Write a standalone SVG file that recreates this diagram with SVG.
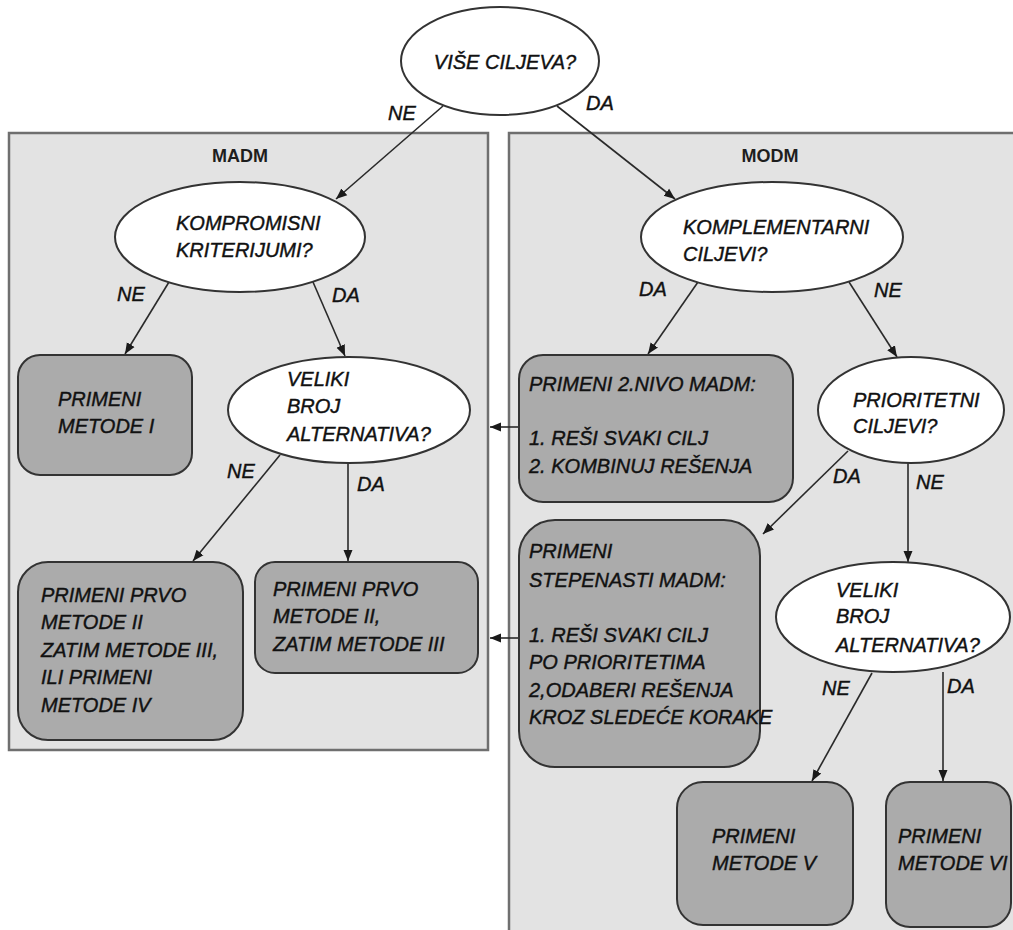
<svg xmlns="http://www.w3.org/2000/svg" width="1013" height="930" viewBox="0 0 1013 930">
  <style>
    .panel { fill: #e3e3e3; stroke: #6f6f6f; stroke-width: 2.5; }
    .panel-title { font-family: "Liberation Sans", Arial, sans-serif; font-weight: bold; font-size: 18px; fill: #1e1e1e; text-anchor: middle; }
    .question { fill: #ffffff; stroke: #333333; stroke-width: 2; }
    .action { fill: #ababab; stroke: #333333; stroke-width: 2; }
    .t { font-family: "Liberation Sans", Arial, sans-serif; font-style: italic; font-size: 20px; fill: #111111; stroke: #111111; stroke-width: 0.4; }
    .tc { text-anchor: middle; }
    .edge { fill: none; stroke: #2a2a2a; stroke-width: 1.6; marker-end: url(#arrow); }
    .lbl { font-family: "Liberation Sans", Arial, sans-serif; font-style: italic; font-size: 20px; fill: #111111; stroke: #111111; stroke-width: 0.4; }
  </style>
  <defs>
    <marker id="arrow" markerUnits="userSpaceOnUse" markerWidth="12" markerHeight="12" viewBox="0 0 12 12" refX="11" refY="6" orient="auto">
      <path d="M0,1.5 L11,6 L0,10.5 Z" fill="#1a1a1a"/>
    </marker>
  </defs>

  <rect width="1013" height="930" fill="#ffffff"/>

  <!-- method groups -->
  <g id="panel-madm">
    <rect class="panel" x="9" y="133" width="479" height="617"/>
    <text class="panel-title" x="240" y="162">MADM</text>
  </g>
  <g id="panel-modm">
    <rect class="panel" x="509" y="133" width="520" height="810"/>
    <text class="panel-title" x="770" y="162">MODM</text>
  </g>

  <!-- connectors -->
  <g id="connectors">
    <line class="edge" x1="443" y1="106" x2="336" y2="199"/>
    <line class="edge" x1="557" y1="106" x2="675" y2="199"/>
    <line class="edge" x1="169" y1="282" x2="125" y2="354"/>
    <line class="edge" x1="313" y1="282" x2="345" y2="356"/>
    <line class="edge" x1="280" y1="455" x2="193" y2="561"/>
    <line class="edge" x1="348" y1="463" x2="348" y2="561"/>
    <line class="edge" x1="698" y1="282" x2="648" y2="354"/>
    <line class="edge" x1="849" y1="282" x2="897" y2="357"/>
    <line class="edge" x1="848" y1="451" x2="763" y2="534"/>
    <line class="edge" x1="908" y1="463" x2="908" y2="562"/>
    <line class="edge" x1="872" y1="673" x2="812" y2="781"/>
    <line class="edge" x1="943" y1="672" x2="943" y2="781"/>
    <line class="edge" x1="519" y1="427" x2="490" y2="427"/>
    <line class="edge" x1="519" y1="638" x2="490" y2="638"/>
    <text class="lbl" x="388" y="120">NE</text>
    <text class="lbl" x="586" y="110">DA</text>
    <text class="lbl" x="117" y="301">NE</text>
    <text class="lbl" x="332" y="302">DA</text>
    <text class="lbl" x="227" y="478">NE</text>
    <text class="lbl" x="357" y="491">DA</text>
    <text class="lbl" x="639" y="296">DA</text>
    <text class="lbl" x="874" y="297">NE</text>
    <text class="lbl" x="833" y="483">DA</text>
    <text class="lbl" x="916" y="489">NE</text>
    <text class="lbl" x="822" y="695">NE</text>
    <text class="lbl" x="947" y="693">DA</text>
  </g>

  <!-- decision nodes -->
  <g id="q-vise-ciljeva">
    <ellipse class="question" cx="500" cy="61" rx="99" ry="54"/>
    <text class="t tc" x="505" y="69">VIŠE CILJEVA?</text>
  </g>
  <g id="q-kompromisni">
    <ellipse class="question" cx="240" cy="237" rx="125" ry="55"/>
    <text class="t" x="176" y="230">KOMPROMISNI</text>
    <text class="t" x="176" y="257">KRITERIJUMI?</text>
  </g>
  <g id="q-komplementarni">
    <ellipse class="question" cx="772" cy="237" rx="131" ry="55"/>
    <text class="t" x="683" y="234">KOMPLEMENTARNI</text>
    <text class="t" x="683" y="261">CILJEVI?</text>
  </g>
  <g id="q-veliki-broj-madm">
    <ellipse class="question" cx="349" cy="410" rx="121" ry="53"/>
    <text class="t" x="287" y="386">VELIKI</text>
    <text class="t" x="287" y="413">BROJ</text>
    <text class="t" x="287" y="441">ALTERNATIVA?</text>
  </g>
  <g id="q-prioritetni">
    <ellipse class="question" cx="911" cy="410" rx="93" ry="53"/>
    <text class="t" x="853" y="407">PRIORITETNI</text>
    <text class="t" x="853" y="433">CILJEVI?</text>
  </g>
  <g id="q-veliki-broj-modm">
    <ellipse class="question" cx="893" cy="617" rx="117" ry="55"/>
    <text class="t" x="836" y="597">VELIKI</text>
    <text class="t" x="836" y="623">BROJ</text>
    <text class="t" x="836" y="652">ALTERNATIVA?</text>
  </g>

  <!-- action nodes -->
  <g id="a-metode-1">
    <rect class="action" x="18" y="355" width="174" height="120" rx="22"/>
    <text class="t" x="58" y="406">PRIMENI</text>
    <text class="t" x="58" y="433">METODE I</text>
  </g>
  <g id="a-metode-2-3-4">
    <rect class="action" x="18" y="562" width="225" height="178" rx="30"/>
    <text class="t" x="41" y="602">PRIMENI PRVO</text>
    <text class="t" x="41" y="629">METODE II</text>
    <text class="t" x="41" y="657">ZATIM METODE III,</text>
    <text class="t" x="41" y="684">ILI PRIMENI</text>
    <text class="t" x="41" y="712">METODE IV</text>
  </g>
  <g id="a-metode-2-3">
    <rect class="action" x="255" y="562" width="223" height="111" rx="20"/>
    <text class="t" x="273" y="596">PRIMENI PRVO</text>
    <text class="t" x="273" y="623">METODE II,</text>
    <text class="t" x="273" y="651">ZATIM METODE III</text>
  </g>
  <g id="a-nivo-madm">
    <rect class="action" x="519" y="355" width="274" height="147" rx="24"/>
    <text class="t" x="529" y="391">PRIMENI 2.NIVO MADM:</text>
    <text class="t" x="529" y="445">1. REŠI SVAKI CILJ</text>
    <text class="t" x="529" y="473">2. KOMBINUJ REŠENJA</text>
  </g>
  <g id="a-stepenasti-madm">
    <rect class="action" x="519" y="520" width="241" height="247" rx="36"/>
    <text class="t" x="529" y="558">PRIMENI</text>
    <text class="t" x="529" y="587">STEPENASTI MADM:</text>
    <text class="t" x="529" y="642">1. REŠI SVAKI CILJ</text>
    <text class="t" x="529" y="669">PO PRIORITETIMA</text>
    <text class="t" x="529" y="697">2,ODABERI REŠENJA</text>
    <text class="t" x="529" y="724">KROZ SLEDEĆE KORAKE</text>
  </g>
  <g id="a-metode-5">
    <rect class="action" x="677" y="782" width="176" height="143" rx="26"/>
    <text class="t" x="712" y="843">PRIMENI</text>
    <text class="t" x="712" y="870">METODE V</text>
  </g>
  <g id="a-metode-6">
    <rect class="action" x="886" y="782" width="125" height="145" rx="24"/>
    <text class="t" x="898" y="843">PRIMENI</text>
    <text class="t" x="898" y="870">METODE VI</text>
  </g>
</svg>
